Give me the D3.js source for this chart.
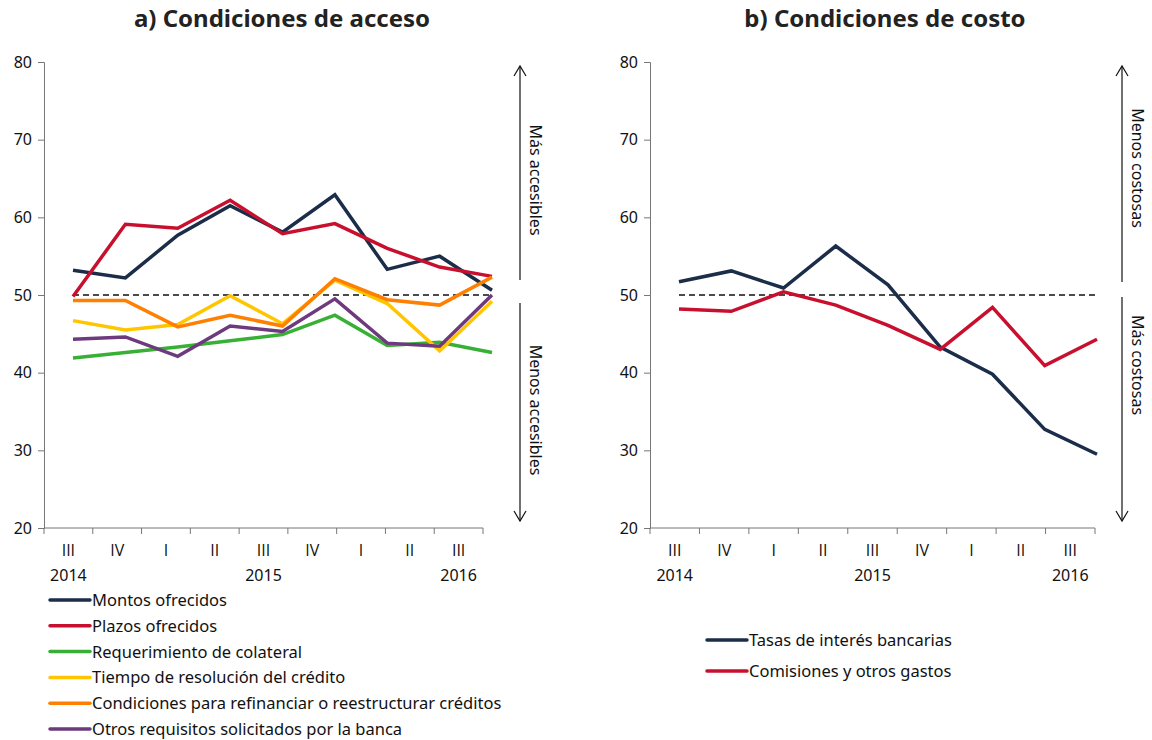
<!DOCTYPE html>
<html>
<head>
<meta charset="utf-8">
<script src="https://cdn.jsdelivr.net/npm/d3@7"></script>
<style>
  body { margin: 0; background: #fff; }
  svg { font-family: "Noto Sans", "Open Sans", sans-serif; }
</style>
</head>
<body>
<svg id="chart" width="1152" height="740"></svg>
<script>
const quarters = ["III", "IV", "I", "II", "III", "IV", "I", "II", "III"];
const years = ["2014", "", "", "", "2015", "", "", "", "2016"];
const yTicks = [20, 30, 40, 50, 60, 70, 80];

// panel a) Condiciones de acceso
const accesoNames = [
  "Montos ofrecidos",
  "Plazos ofrecidos",
  "Requerimiento de colateral",
  "Tiempo de resolución del crédito",
  "Condiciones para refinanciar o reestructurar créditos",
  "Otros requisitos solicitados por la banca"
];
const montos = [53.2, 52.2, 57.7, 61.5, 58.1, 62.9, 53.3, 55.0, 50.6];
const plazos = [49.8, 59.1, 58.6, 62.2, 57.9, 59.2, 56.0, 53.6, 52.4];
const colateral = [41.9, 42.6, 43.3, 44.1, 44.9, 47.4, 43.5, 43.9, 42.6];
const tiempo = [46.7, 45.5, 46.2, 49.9, 46.3, 51.9, 48.9, 42.8, 49.2];
const refinanciar = [49.3, 49.3, 45.9, 47.4, 46.0, 52.1, 49.4, 48.7, 52.3];
const otros = [44.3, 44.6, 42.1, 46.0, 45.3, 49.5, 43.8, 43.4, 50.0];
const accesoColors = ["#1c2d4a", "#c8102e", "#38b035", "#ffc600", "#ff7f00", "#6d3a7d"];

// panel b) Condiciones de costo
const costoNames = ["Tasas de interés bancarias", "Comisiones y otros gastos"];
const tasas = [51.7, 53.1, 50.9, 56.3, 51.3, 43.3, 39.8, 32.7, 29.5];
const comisiones = [48.2, 47.9, 50.4, 48.7, 46.1, 43.0, 48.4, 40.9, 44.3];
const costoColors = ["#1c2d4a", "#c8102e"];

const svg = d3.select("#chart");
const idx = d3.range(quarters.length);
const FONT = "'Noto Sans', 'Open Sans', sans-serif";

function panel(opt) {
  const g = svg.append("g");
  const x = d3.scaleBand().domain(idx).range([opt.x0, opt.x1]);
  // the series sit on a slightly wider spacing than the category axis
  const xl = d3.scalePoint().domain(idx).range([opt.l0, opt.l1]);
  const y = d3.scaleLinear().domain([20, 80]).range([528, 62]);

  g.append("text")
    .attr("x", opt.titleX).attr("y", 27)
    .attr("text-anchor", "middle")
    .attr("font-size", 24).attr("font-weight", "bold").attr("fill", "#222")
    .text(opt.title);

  // y axis
  const ya = g.append("g").attr("transform", `translate(${opt.x0},0)`)
    .call(d3.axisLeft(y).tickValues(yTicks).tickSize(6).tickPadding(6));
  ya.select(".domain").attr("stroke", "#777");
  ya.selectAll(".tick line").attr("stroke", "#777");
  ya.selectAll("text").attr("font-size", 16).attr("fill", "#111")
    .attr("font-family", FONT);

  // x axis with ticks at band edges
  const xa = g.append("g").attr("transform", `translate(0,${y(20)})`);
  xa.append("line").attr("x1", opt.x0).attr("x2", opt.x1)
    .attr("stroke", "#777");
  xa.selectAll(".edge").data(idx.concat([quarters.length]))
    .join("line").attr("class", "edge")
    .attr("x1", d => d < quarters.length ? x(d) : opt.x1)
    .attr("x2", d => d < quarters.length ? x(d) : opt.x1)
    .attr("y1", 0).attr("y2", 6).attr("stroke", "#777");
  xa.selectAll(".q").data(idx).join("text").attr("class", "q")
    .attr("x", d => x(d) + x.bandwidth() / 2).attr("y", 28)
    .attr("text-anchor", "middle").attr("font-size", 16).attr("fill", "#111")
    .attr("font-family", "'Open Sans', sans-serif")
    .text(d => quarters[d]);
  xa.selectAll(".yr").data(idx.filter(d => years[d])).join("text").attr("class", "yr")
    .attr("x", d => x(d) + x.bandwidth() / 2).attr("y", 53)
    .attr("text-anchor", "middle").attr("font-size", 16).attr("fill", "#111")
    .text(d => years[d]);

  // reference line at 50
  g.append("line")
    .attr("x1", xl(0)).attr("x2", xl(quarters.length - 1))
    .attr("y1", y(50)).attr("y2", y(50))
    .attr("stroke", "#111").attr("stroke-width", 1.5)
    .attr("stroke-dasharray", "6,4");

  const line = d3.line().x((d, i) => xl(i)).y(d => y(d));
  opt.series.forEach((s, i) => {
    g.append("path").datum(s)
      .attr("d", line).attr("fill", "none")
      .attr("stroke", opt.colors[i]).attr("stroke-width", 3.5)
      .attr("stroke-linejoin", "miter");
  });

  // direction arrows
  const ax = opt.arrowX;
  const ar = g.append("g").attr("stroke", "#111").attr("stroke-width", 1.2).attr("fill", "none");
  ar.append("line").attr("x1", ax).attr("x2", ax).attr("y1", 66).attr("y2", opt.gapTop);
  ar.append("line").attr("x1", ax).attr("x2", ax).attr("y1", opt.gapBot).attr("y2", 521);
  ar.append("path").attr("d", `M${ax - 6},76 L${ax},66 L${ax + 6},76`);
  ar.append("path").attr("d", `M${ax - 6},511 L${ax},521 L${ax + 6},511`);
  opt.arrowText.forEach(t => {
    g.append("text")
      .attr("transform", `translate(${ax + 10},${t.y}) rotate(90)`)
      .attr("text-anchor", "middle").attr("font-size", 16).attr("fill", "#111")
      .text(t.text);
  });

  // legend
  const lg = g.append("g");
  opt.names.forEach((n, i) => {
    const ly = opt.legY + i * opt.legStep;
    lg.append("line").attr("x1", opt.legX).attr("x2", opt.legX + 40)
      .attr("y1", ly).attr("y2", ly)
      .attr("stroke", opt.colors[i]).attr("stroke-width", 3.5).attr("stroke-linecap", "round");
    lg.append("text").attr("x", opt.legX + 42).attr("y", ly + 6)
      .attr("font-size", 16.5).attr("fill", "#111").text(n);
  });
}

panel({
  title: "a) Condiciones de acceso", titleX: 282,
  x0: 44, x1: 483, l0: 73, l1: 492,
  series: [montos, plazos, colateral, tiempo, refinanciar, otros],
  colors: accesoColors, names: accesoNames,
  arrowX: 520, gapTop: 280, gapBot: 303,
  arrowText: [{ y: 180, text: "Más accesibles" }, { y: 410, text: "Menos accesibles" }],
  legX: 50, legY: 600, legStep: 25.8
});

panel({
  title: "b) Condiciones de costo", titleX: 885,
  x0: 650, x1: 1095, l0: 679, l1: 1097,
  series: [tasas, comisiones],
  colors: costoColors, names: costoNames,
  arrowX: 1122, gapTop: 282, gapBot: 297,
  arrowText: [{ y: 168, text: "Menos costosas" }, { y: 365, text: "Más costosas" }],
  legX: 707, legY: 640, legStep: 31
});
</script>
</body>
</html>
